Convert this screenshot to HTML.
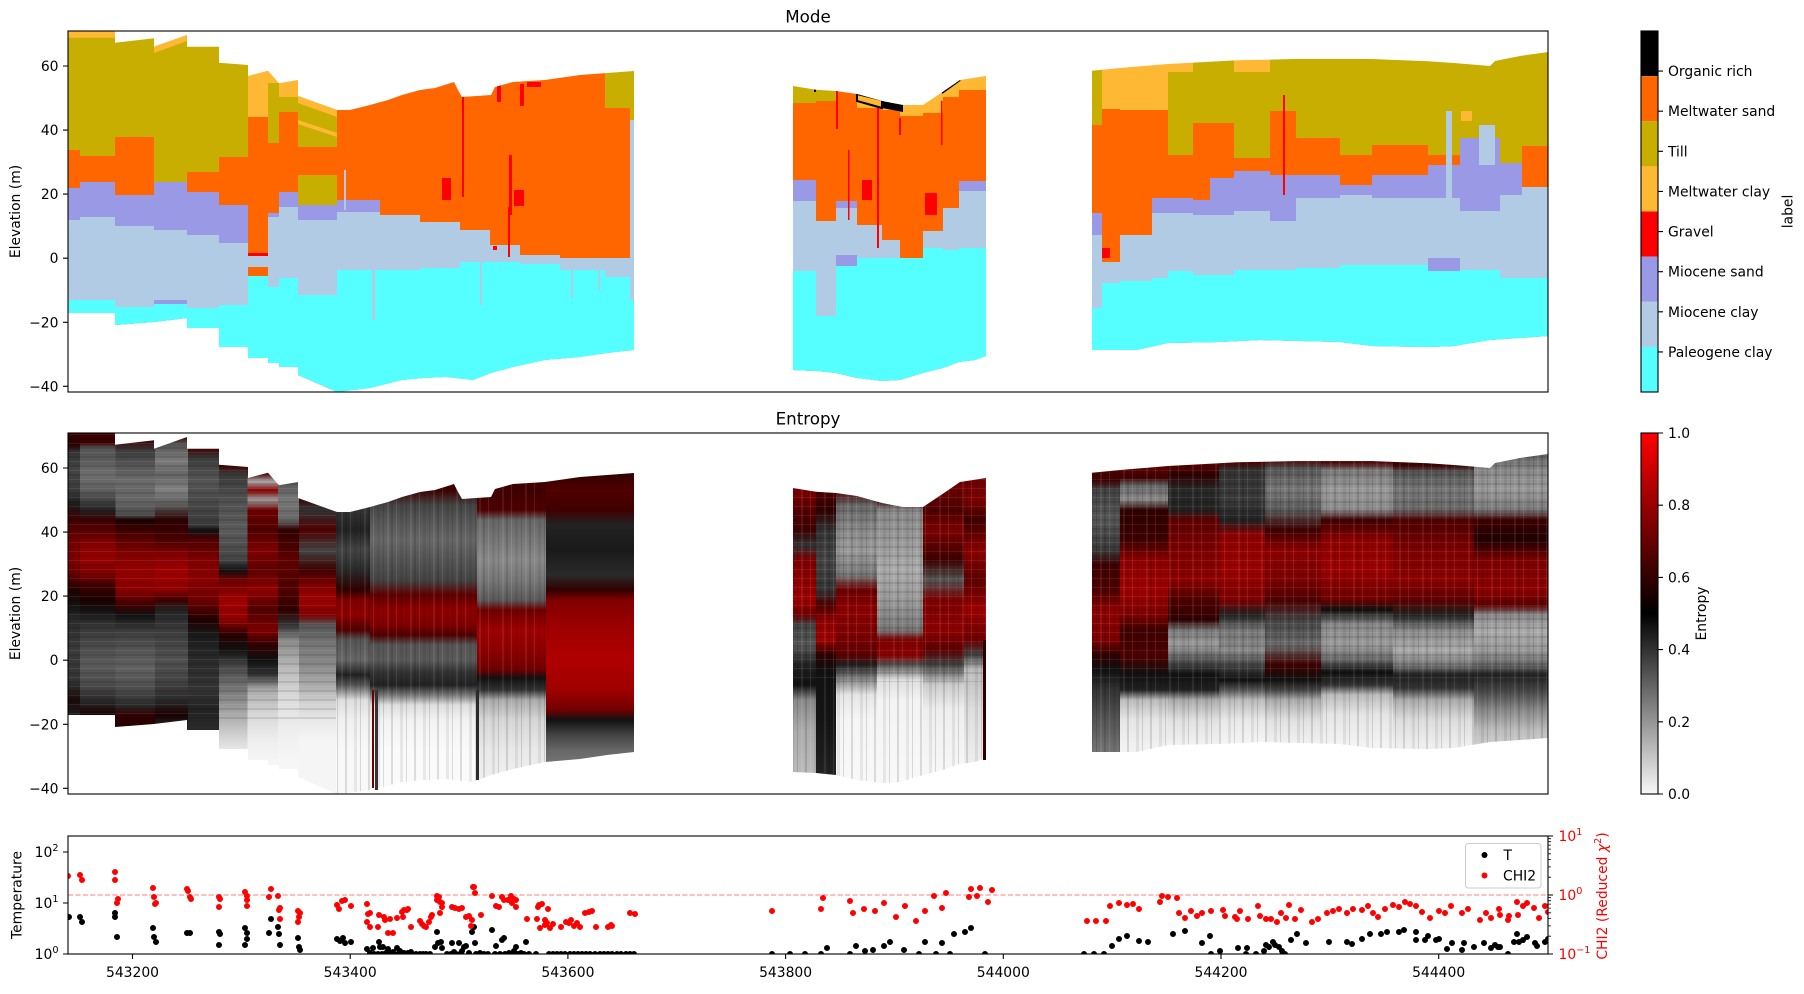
<!DOCTYPE html>
<html><head><meta charset="utf-8"><style>
html,body{margin:0;padding:0;background:#fff;}
body{width:1804px;height:989px;overflow:hidden;}
svg text{font-family:"DejaVu Sans","Liberation Sans",sans-serif;}
.P{fill:#55ffff}.C{fill:#b0cbe3}.S{fill:#9999e6}.G{fill:#ff0000}.Y{fill:#ffb833}.T{fill:#c8ae00}.M{fill:#ff6600}.K{fill:#000}
</style></head><body>
<svg width="1804" height="989" xmlns="http://www.w3.org/2000/svg">
<defs>
<clipPath id="s1"><polygon points="68,31 115,31 115,42.7 154,38.3 154,46.7 187,35 187,46.7 219,46.7 219,62.7 248,65 248,76 268,70.7 279,83.3 298,80 298,96 337,110 350,110 370,105 388,100 402,95 420,90 435,88 454,82 458,90 462,97 491,95 495,87 513,82 545,80 580,75 634,71 634,350 607,353 580,357 545,360 513,367 491,373 473,380 446,377 424,378 402,380 370,388 337,392 298,375 298,367 279,367 279,363 268,363 268,358 248,358 248,347 219,347 219,328 187,328 187,318 154,322 115,325 115,313 68,313"/></clipPath>
<clipPath id="s2"><polygon points="793,86 816,89.7 836,91 857,94 882,101 903,105 923,105 944,91 960,80 986,76 986,356 975,360 959,362 943,368 923,373 900,380 882,381 857,378 836,373 816,371 793,370"/></clipPath>
<clipPath id="s3"><polygon points="1092,70.7 1120,68 1168,64 1219,61.3 1237,60.3 1265,59.7 1296,59 1372,59 1428,61.3 1454,63 1490,66 1495,61 1520,56 1548,52 1548,336 1520,338 1490,340 1454,346 1428,347 1372,346 1340,342 1300,341 1260,340 1219,342 1168,343 1137,350 1092,350"/></clipPath>
<clipPath id="ax3"><rect x="68" y="836" width="1480" height="118"/></clipPath>
<pattern id="vs" patternUnits="userSpaceOnUse" width="23" height="400"><rect x="0" y="0" width="2" height="400" fill="#000" opacity=".12"/><rect x="5" y="0" width="1" height="400" fill="#fff" opacity=".1"/><rect x="9" y="0" width="3" height="400" fill="#000" opacity=".07"/><rect x="15" y="0" width="1" height="400" fill="#000" opacity=".13"/><rect x="19" y="0" width="2" height="400" fill="#fff" opacity=".08"/></pattern>
<pattern id="hs" patternUnits="userSpaceOnUse" width="40" height="9"><rect x="0" y="0" width="40" height="2" fill="#000" opacity=".1"/><rect x="0" y="5" width="40" height="1" fill="#fff" opacity=".08"/></pattern>
<linearGradient id="cbE" x1="0" y1="0" x2="0" y2="1"><stop offset="0" stop-color="#ff0000"/><stop offset=".5" stop-color="#000"/><stop offset="1" stop-color="#f8f8f8"/></linearGradient>

<linearGradient id="e1" gradientUnits="userSpaceOnUse" x1="0" y1="-402" x2="0" y2="598"><stop offset=".433" stop-color="#3a0000"/><stop offset=".445" stop-color="#2a0000"/><stop offset=".452" stop-color="#333"/><stop offset=".47" stop-color="#444"/><stop offset=".49" stop-color="#3a3a3a"/><stop offset=".505" stop-color="#1a1a1a"/><stop offset=".52" stop-color="#400000"/><stop offset=".54" stop-color="#700000"/><stop offset=".56" stop-color="#800000"/><stop offset=".575" stop-color="#600000"/><stop offset=".59" stop-color="#200000"/><stop offset=".605" stop-color="#111"/><stop offset=".62" stop-color="#2a2a2a"/><stop offset=".65" stop-color="#3a3a3a"/><stop offset=".68" stop-color="#333"/><stop offset=".70" stop-color="#1a0a0a"/><stop offset=".72" stop-color="#222"/></linearGradient>
<linearGradient id="e2" gradientUnits="userSpaceOnUse" x1="0" y1="-402" x2="0" y2="598"><stop offset=".433" stop-color="#400000"/><stop offset=".443" stop-color="#3a0000"/><stop offset=".448" stop-color="#555"/><stop offset=".46" stop-color="#5a5a5a"/><stop offset=".475" stop-color="#6e6e6e"/><stop offset=".49" stop-color="#5e5e5e"/><stop offset=".50" stop-color="#444"/><stop offset=".51" stop-color="#222"/><stop offset=".52" stop-color="#3a0000"/><stop offset=".533" stop-color="#600000"/><stop offset=".545" stop-color="#880000"/><stop offset=".56" stop-color="#950000"/><stop offset=".575" stop-color="#7a0000"/><stop offset=".585" stop-color="#400000"/><stop offset=".60" stop-color="#1a0000"/><stop offset=".612" stop-color="#151515"/><stop offset=".625" stop-color="#333"/><stop offset=".645" stop-color="#4a4a4a"/><stop offset=".665" stop-color="#5a5a5a"/><stop offset=".685" stop-color="#4a4a4a"/><stop offset=".70" stop-color="#2a2a2a"/><stop offset=".715" stop-color="#1a0000"/></linearGradient>
<linearGradient id="e3" gradientUnits="userSpaceOnUse" x1="0" y1="-402" x2="0" y2="598"><stop offset=".44" stop-color="#400000"/><stop offset=".45" stop-color="#3a3a3a"/><stop offset=".465" stop-color="#555"/><stop offset=".48" stop-color="#6a6a6a"/><stop offset=".50" stop-color="#666"/><stop offset=".515" stop-color="#4a4a4a"/><stop offset=".52" stop-color="#1a0000"/><stop offset=".535" stop-color="#500000"/><stop offset=".553" stop-color="#800000"/><stop offset=".57" stop-color="#950000"/><stop offset=".59" stop-color="#8a0000"/><stop offset=".605" stop-color="#400000"/><stop offset=".615" stop-color="#111"/><stop offset=".63" stop-color="#3a3a3a"/><stop offset=".65" stop-color="#555"/><stop offset=".67" stop-color="#606060"/><stop offset=".69" stop-color="#4a4a4a"/><stop offset=".705" stop-color="#2a2a2a"/><stop offset=".715" stop-color="#300000"/><stop offset=".725" stop-color="#2a0000"/></linearGradient>
<linearGradient id="e4" gradientUnits="userSpaceOnUse" x1="0" y1="-402" x2="0" y2="598"><stop offset=".435" stop-color="#400000"/><stop offset=".445" stop-color="#555"/><stop offset=".46" stop-color="#7a7a7a"/><stop offset=".475" stop-color="#666"/><stop offset=".49" stop-color="#808080"/><stop offset=".505" stop-color="#5a5a5a"/><stop offset=".52" stop-color="#2a0000"/><stop offset=".54" stop-color="#4a0000"/><stop offset=".553" stop-color="#800000"/><stop offset=".57" stop-color="#a00000"/><stop offset=".59" stop-color="#900000"/><stop offset=".60" stop-color="#400000"/><stop offset=".61" stop-color="#222"/><stop offset=".63" stop-color="#3a3a3a"/><stop offset=".66" stop-color="#505050"/><stop offset=".68" stop-color="#444"/><stop offset=".70" stop-color="#2a2a2a"/><stop offset=".715" stop-color="#1a0000"/><stop offset=".725" stop-color="#222"/></linearGradient>
<linearGradient id="e5" gradientUnits="userSpaceOnUse" x1="0" y1="-402" x2="0" y2="598"><stop offset=".448" stop-color="#400000"/><stop offset=".458" stop-color="#3a3a3a"/><stop offset=".48" stop-color="#555"/><stop offset=".50" stop-color="#4a4a4a"/><stop offset=".525" stop-color="#3a3a3a"/><stop offset=".53" stop-color="#111"/><stop offset=".54" stop-color="#500000"/><stop offset=".56" stop-color="#800000"/><stop offset=".58" stop-color="#8a0000"/><stop offset=".60" stop-color="#700000"/><stop offset=".62" stop-color="#200000"/><stop offset=".635" stop-color="#1a1a1a"/><stop offset=".66" stop-color="#2a2a2a"/><stop offset=".69" stop-color="#333"/><stop offset=".71" stop-color="#222"/><stop offset=".73" stop-color="#2a2a2a"/></linearGradient>
<linearGradient id="e6" gradientUnits="userSpaceOnUse" x1="0" y1="-402" x2="0" y2="598"><stop offset=".466" stop-color="#400000"/><stop offset=".474" stop-color="#3a3a3a"/><stop offset=".50" stop-color="#505050"/><stop offset=".53" stop-color="#5a5a5a"/><stop offset=".56" stop-color="#444"/><stop offset=".57" stop-color="#111"/><stop offset=".58" stop-color="#700000"/><stop offset=".60" stop-color="#a00000"/><stop offset=".62" stop-color="#900000"/><stop offset=".635" stop-color="#2a0000"/><stop offset=".65" stop-color="#111"/><stop offset=".665" stop-color="#444"/><stop offset=".69" stop-color="#777"/><stop offset=".715" stop-color="#aaa"/><stop offset=".735" stop-color="#d0d0d0"/><stop offset=".75" stop-color="#e8e8e8"/></linearGradient>
<linearGradient id="e7" gradientUnits="userSpaceOnUse" x1="0" y1="-402" x2="0" y2="598"><stop offset=".473" stop-color="#500000"/><stop offset=".482" stop-color="#aaa"/><stop offset=".49" stop-color="#880000"/><stop offset=".50" stop-color="#999"/><stop offset=".51" stop-color="#700000"/><stop offset=".53" stop-color="#500000"/><stop offset=".55" stop-color="#800000"/><stop offset=".57" stop-color="#600000"/><stop offset=".59" stop-color="#900000"/><stop offset=".61" stop-color="#500000"/><stop offset=".63" stop-color="#800000"/><stop offset=".645" stop-color="#300000"/><stop offset=".66" stop-color="#111"/><stop offset=".675" stop-color="#333"/><stop offset=".69" stop-color="#aaa"/><stop offset=".715" stop-color="#d8d8d8"/><stop offset=".74" stop-color="#eee"/><stop offset=".76" stop-color="#f5f5f5"/></linearGradient>
<linearGradient id="e8" gradientUnits="userSpaceOnUse" x1="0" y1="-402" x2="0" y2="598"><stop offset=".482" stop-color="#555"/><stop offset=".50" stop-color="#777"/><stop offset=".52" stop-color="#666"/><stop offset=".53" stop-color="#300000"/><stop offset=".56" stop-color="#600000"/><stop offset=".59" stop-color="#500000"/><stop offset=".61" stop-color="#300000"/><stop offset=".625" stop-color="#333"/><stop offset=".64" stop-color="#888"/><stop offset=".67" stop-color="#bbb"/><stop offset=".70" stop-color="#dcdcdc"/><stop offset=".73" stop-color="#eee"/><stop offset=".76" stop-color="#f6f6f6"/></linearGradient>
<linearGradient id="e9" gradientUnits="userSpaceOnUse" x1="0" y1="-402" x2="0" y2="598"><stop offset=".497" stop-color="#400000"/><stop offset=".51" stop-color="#333"/><stop offset=".53" stop-color="#500000"/><stop offset=".55" stop-color="#444"/><stop offset=".57" stop-color="#400000"/><stop offset=".585" stop-color="#800000"/><stop offset=".60" stop-color="#a00000"/><stop offset=".615" stop-color="#800000"/><stop offset=".625" stop-color="#555"/><stop offset=".645" stop-color="#777"/><stop offset=".665" stop-color="#888"/><stop offset=".685" stop-color="#aaa"/><stop offset=".70" stop-color="#ccc"/><stop offset=".72" stop-color="#e8e8e8"/><stop offset=".74" stop-color="#f5f5f5"/></linearGradient>
<linearGradient id="e10" gradientUnits="userSpaceOnUse" x1="0" y1="-402" x2="0" y2="598"><stop offset=".51" stop-color="#333"/><stop offset=".53" stop-color="#222"/><stop offset=".55" stop-color="#444"/><stop offset=".57" stop-color="#2a2a2a"/><stop offset=".59" stop-color="#300000"/><stop offset=".60" stop-color="#800000"/><stop offset=".615" stop-color="#900000"/><stop offset=".63" stop-color="#500000"/><stop offset=".64" stop-color="#555"/><stop offset=".66" stop-color="#666"/><stop offset=".675" stop-color="#222"/><stop offset=".685" stop-color="#555"/><stop offset=".70" stop-color="#ddd"/><stop offset=".72" stop-color="#f0f0f0"/><stop offset=".75" stop-color="#f8f8f8"/></linearGradient>
<linearGradient id="e11" gradientUnits="userSpaceOnUse" x1="0" y1="-402" x2="0" y2="598"><stop offset=".49" stop-color="#400000"/><stop offset=".505" stop-color="#444"/><stop offset=".52" stop-color="#555"/><stop offset=".54" stop-color="#666"/><stop offset=".56" stop-color="#555"/><stop offset=".58" stop-color="#444"/><stop offset=".595" stop-color="#600000"/><stop offset=".61" stop-color="#900000"/><stop offset=".625" stop-color="#800000"/><stop offset=".635" stop-color="#500000"/><stop offset=".645" stop-color="#555"/><stop offset=".66" stop-color="#5a5a5a"/><stop offset=".672" stop-color="#333"/><stop offset=".685" stop-color="#222"/><stop offset=".695" stop-color="#777"/><stop offset=".705" stop-color="#ddd"/><stop offset=".72" stop-color="#f2f2f2"/><stop offset=".75" stop-color="#fafafa"/></linearGradient>
<linearGradient id="e12" gradientUnits="userSpaceOnUse" x1="0" y1="-402" x2="0" y2="598"><stop offset=".49" stop-color="#400000"/><stop offset=".51" stop-color="#500000"/><stop offset=".52" stop-color="#666"/><stop offset=".54" stop-color="#777"/><stop offset=".56" stop-color="#888"/><stop offset=".58" stop-color="#777"/><stop offset=".60" stop-color="#5a5a5a"/><stop offset=".61" stop-color="#700000"/><stop offset=".63" stop-color="#a00000"/><stop offset=".65" stop-color="#900000"/><stop offset=".67" stop-color="#700000"/><stop offset=".678" stop-color="#111"/><stop offset=".69" stop-color="#333"/><stop offset=".70" stop-color="#aaa"/><stop offset=".72" stop-color="#d5d5d5"/><stop offset=".75" stop-color="#e8e8e8"/><stop offset=".775" stop-color="#eee"/></linearGradient>
<linearGradient id="e13" gradientUnits="userSpaceOnUse" x1="0" y1="-402" x2="0" y2="598"><stop offset=".473" stop-color="#300000"/><stop offset=".49" stop-color="#500000"/><stop offset=".51" stop-color="#400000"/><stop offset=".525" stop-color="#222"/><stop offset=".55" stop-color="#1a1a1a"/><stop offset=".575" stop-color="#2a2a2a"/><stop offset=".59" stop-color="#300000"/><stop offset=".60" stop-color="#800000"/><stop offset=".63" stop-color="#a00000"/><stop offset=".66" stop-color="#b00000"/><stop offset=".69" stop-color="#a00000"/><stop offset=".71" stop-color="#700000"/><stop offset=".72" stop-color="#111"/><stop offset=".735" stop-color="#444"/><stop offset=".75" stop-color="#666"/><stop offset=".765" stop-color="#777"/></linearGradient>
<linearGradient id="e14" gradientUnits="userSpaceOnUse" x1="0" y1="-402" x2="0" y2="598"><stop offset=".488" stop-color="#800000"/><stop offset=".50" stop-color="#700000"/><stop offset=".515" stop-color="#500000"/><stop offset=".53" stop-color="#400000"/><stop offset=".545" stop-color="#333"/><stop offset=".56" stop-color="#800000"/><stop offset=".58" stop-color="#900000"/><stop offset=".60" stop-color="#a00000"/><stop offset=".615" stop-color="#700000"/><stop offset=".625" stop-color="#444"/><stop offset=".645" stop-color="#555"/><stop offset=".665" stop-color="#222"/><stop offset=".685" stop-color="#111"/><stop offset=".70" stop-color="#888"/><stop offset=".73" stop-color="#aaa"/><stop offset=".775" stop-color="#bbb"/></linearGradient>
<linearGradient id="e15" gradientUnits="userSpaceOnUse" x1="0" y1="-402" x2="0" y2="598"><stop offset=".49" stop-color="#500000"/><stop offset=".51" stop-color="#300000"/><stop offset=".53" stop-color="#333"/><stop offset=".56" stop-color="#444"/><stop offset=".59" stop-color="#333"/><stop offset=".605" stop-color="#500000"/><stop offset=".62" stop-color="#900000"/><stop offset=".64" stop-color="#a00000"/><stop offset=".655" stop-color="#300000"/><stop offset=".67" stop-color="#111"/><stop offset=".72" stop-color="#151515"/><stop offset=".775" stop-color="#222"/></linearGradient>
<linearGradient id="e16" gradientUnits="userSpaceOnUse" x1="0" y1="-402" x2="0" y2="598"><stop offset=".49" stop-color="#500000"/><stop offset=".505" stop-color="#666"/><stop offset=".53" stop-color="#888"/><stop offset=".55" stop-color="#999"/><stop offset=".575" stop-color="#777"/><stop offset=".59" stop-color="#700000"/><stop offset=".61" stop-color="#900000"/><stop offset=".635" stop-color="#800000"/><stop offset=".655" stop-color="#600000"/><stop offset=".665" stop-color="#222"/><stop offset=".68" stop-color="#888"/><stop offset=".695" stop-color="#e5e5e5"/><stop offset=".72" stop-color="#f5f5f5"/><stop offset=".78" stop-color="#f8f8f8"/></linearGradient>
<linearGradient id="e17" gradientUnits="userSpaceOnUse" x1="0" y1="-402" x2="0" y2="598"><stop offset=".50" stop-color="#300000"/><stop offset=".51" stop-color="#888"/><stop offset=".54" stop-color="#999"/><stop offset=".57" stop-color="#aaa"/><stop offset=".60" stop-color="#999"/><stop offset=".63" stop-color="#777"/><stop offset=".64" stop-color="#800000"/><stop offset=".655" stop-color="#900000"/><stop offset=".665" stop-color="#555"/><stop offset=".68" stop-color="#ddd"/><stop offset=".70" stop-color="#f3f3f3"/><stop offset=".78" stop-color="#f8f8f8"/></linearGradient>
<linearGradient id="e18" gradientUnits="userSpaceOnUse" x1="0" y1="-402" x2="0" y2="598"><stop offset=".488" stop-color="#700000"/><stop offset=".51" stop-color="#500000"/><stop offset=".53" stop-color="#800000"/><stop offset=".56" stop-color="#400000"/><stop offset=".58" stop-color="#555"/><stop offset=".60" stop-color="#800000"/><stop offset=".63" stop-color="#900000"/><stop offset=".65" stop-color="#600000"/><stop offset=".665" stop-color="#444"/><stop offset=".685" stop-color="#ccc"/><stop offset=".71" stop-color="#eee"/><stop offset=".78" stop-color="#f8f8f8"/></linearGradient>
<linearGradient id="e19" gradientUnits="userSpaceOnUse" x1="0" y1="-402" x2="0" y2="598"><stop offset=".478" stop-color="#700000"/><stop offset=".50" stop-color="#800000"/><stop offset=".52" stop-color="#400000"/><stop offset=".55" stop-color="#900000"/><stop offset=".58" stop-color="#600000"/><stop offset=".61" stop-color="#a00000"/><stop offset=".64" stop-color="#700000"/><stop offset=".655" stop-color="#444"/><stop offset=".67" stop-color="#bbb"/><stop offset=".71" stop-color="#ddd"/><stop offset=".765" stop-color="#eee"/></linearGradient>
<linearGradient id="e20" gradientUnits="userSpaceOnUse" x1="0" y1="-402" x2="0" y2="598"><stop offset=".47" stop-color="#500000"/><stop offset=".48" stop-color="#400000"/><stop offset=".49" stop-color="#444"/><stop offset=".52" stop-color="#555"/><stop offset=".55" stop-color="#3a3a3a"/><stop offset=".565" stop-color="#400000"/><stop offset=".59" stop-color="#500000"/><stop offset=".61" stop-color="#900000"/><stop offset=".64" stop-color="#800000"/><stop offset=".655" stop-color="#300000"/><stop offset=".67" stop-color="#111"/><stop offset=".69" stop-color="#333"/><stop offset=".72" stop-color="#555"/><stop offset=".755" stop-color="#777"/></linearGradient>
<linearGradient id="e21" gradientUnits="userSpaceOnUse" x1="0" y1="-402" x2="0" y2="598"><stop offset=".466" stop-color="#600000"/><stop offset=".478" stop-color="#400000"/><stop offset=".485" stop-color="#666"/><stop offset=".50" stop-color="#888"/><stop offset=".51" stop-color="#300000"/><stop offset=".54" stop-color="#400000"/><stop offset=".56" stop-color="#900000"/><stop offset=".59" stop-color="#a00000"/><stop offset=".615" stop-color="#800000"/><stop offset=".63" stop-color="#400000"/><stop offset=".655" stop-color="#500000"/><stop offset=".675" stop-color="#111"/><stop offset=".69" stop-color="#222"/><stop offset=".70" stop-color="#bbb"/><stop offset=".72" stop-color="#e5e5e5"/><stop offset=".75" stop-color="#f2f2f2"/></linearGradient>
<linearGradient id="e22" gradientUnits="userSpaceOnUse" x1="0" y1="-402" x2="0" y2="598"><stop offset=".463" stop-color="#600000"/><stop offset=".475" stop-color="#300000"/><stop offset=".49" stop-color="#2a2a2a"/><stop offset=".51" stop-color="#222"/><stop offset=".52" stop-color="#600000"/><stop offset=".55" stop-color="#800000"/><stop offset=".58" stop-color="#900000"/><stop offset=".60" stop-color="#500000"/><stop offset=".62" stop-color="#300000"/><stop offset=".63" stop-color="#777"/><stop offset=".645" stop-color="#999"/><stop offset=".66" stop-color="#555"/><stop offset=".675" stop-color="#111"/><stop offset=".69" stop-color="#222"/><stop offset=".70" stop-color="#aaa"/><stop offset=".72" stop-color="#e0e0e0"/><stop offset=".745" stop-color="#f2f2f2"/></linearGradient>
<linearGradient id="e23" gradientUnits="userSpaceOnUse" x1="0" y1="-402" x2="0" y2="598"><stop offset=".462" stop-color="#500000"/><stop offset=".47" stop-color="#333"/><stop offset=".50" stop-color="#3a3a3a"/><stop offset=".52" stop-color="#222"/><stop offset=".535" stop-color="#900000"/><stop offset=".57" stop-color="#a00000"/><stop offset=".60" stop-color="#800000"/><stop offset=".615" stop-color="#222"/><stop offset=".63" stop-color="#777"/><stop offset=".65" stop-color="#888"/><stop offset=".665" stop-color="#444"/><stop offset=".68" stop-color="#111"/><stop offset=".69" stop-color="#555"/><stop offset=".70" stop-color="#bbb"/><stop offset=".72" stop-color="#e8e8e8"/><stop offset=".745" stop-color="#f5f5f5"/></linearGradient>
<linearGradient id="e24" gradientUnits="userSpaceOnUse" x1="0" y1="-402" x2="0" y2="598"><stop offset=".46" stop-color="#500000"/><stop offset=".468" stop-color="#555"/><stop offset=".49" stop-color="#777"/><stop offset=".51" stop-color="#5a5a5a"/><stop offset=".53" stop-color="#400000"/><stop offset=".55" stop-color="#900000"/><stop offset=".58" stop-color="#800000"/><stop offset=".60" stop-color="#500000"/><stop offset=".62" stop-color="#444"/><stop offset=".645" stop-color="#6a6a6a"/><stop offset=".665" stop-color="#400000"/><stop offset=".68" stop-color="#111"/><stop offset=".69" stop-color="#444"/><stop offset=".70" stop-color="#aaa"/><stop offset=".72" stop-color="#e0e0e0"/><stop offset=".745" stop-color="#f2f2f2"/></linearGradient>
<linearGradient id="e25" gradientUnits="userSpaceOnUse" x1="0" y1="-402" x2="0" y2="598"><stop offset=".462" stop-color="#500000"/><stop offset=".47" stop-color="#777"/><stop offset=".49" stop-color="#999"/><stop offset=".51" stop-color="#888"/><stop offset=".52" stop-color="#400000"/><stop offset=".54" stop-color="#900000"/><stop offset=".57" stop-color="#a00000"/><stop offset=".60" stop-color="#700000"/><stop offset=".61" stop-color="#111"/><stop offset=".625" stop-color="#888"/><stop offset=".645" stop-color="#9a9a9a"/><stop offset=".66" stop-color="#666"/><stop offset=".672" stop-color="#111"/><stop offset=".685" stop-color="#333"/><stop offset=".695" stop-color="#bbb"/><stop offset=".715" stop-color="#e5e5e5"/><stop offset=".745" stop-color="#f3f3f3"/></linearGradient>
<linearGradient id="e26" gradientUnits="userSpaceOnUse" x1="0" y1="-402" x2="0" y2="598"><stop offset=".465" stop-color="#400000"/><stop offset=".472" stop-color="#555"/><stop offset=".49" stop-color="#777"/><stop offset=".51" stop-color="#666"/><stop offset=".52" stop-color="#500000"/><stop offset=".55" stop-color="#800000"/><stop offset=".58" stop-color="#900000"/><stop offset=".60" stop-color="#600000"/><stop offset=".615" stop-color="#222"/><stop offset=".63" stop-color="#888"/><stop offset=".65" stop-color="#aaa"/><stop offset=".665" stop-color="#777"/><stop offset=".675" stop-color="#222"/><stop offset=".688" stop-color="#333"/><stop offset=".70" stop-color="#aaa"/><stop offset=".72" stop-color="#dcdcdc"/><stop offset=".745" stop-color="#eee"/></linearGradient>
<linearGradient id="e27" gradientUnits="userSpaceOnUse" x1="0" y1="-402" x2="0" y2="598"><stop offset=".45" stop-color="#555"/><stop offset=".47" stop-color="#888"/><stop offset=".49" stop-color="#999"/><stop offset=".51" stop-color="#777"/><stop offset=".52" stop-color="#400000"/><stop offset=".54" stop-color="#200000"/><stop offset=".56" stop-color="#800000"/><stop offset=".59" stop-color="#900000"/><stop offset=".605" stop-color="#600000"/><stop offset=".615" stop-color="#888"/><stop offset=".63" stop-color="#aaa"/><stop offset=".65" stop-color="#999"/><stop offset=".665" stop-color="#666"/><stop offset=".675" stop-color="#222"/><stop offset=".69" stop-color="#444"/><stop offset=".71" stop-color="#888"/><stop offset=".73" stop-color="#bbb"/><stop offset=".745" stop-color="#ccc"/></linearGradient>
</defs>

<!-- ================= MODE ================= -->
<g clip-path="url(#s1)">
<rect class="Y" x="68" y="0" width="12" height="400"/><rect class="T" x="68" y="37.7" width="12" height="362.3"/><rect class="M" x="68" y="150" width="12" height="250"/><rect class="S" x="68" y="188" width="12" height="212"/><rect class="C" x="68" y="220" width="12" height="180"/><rect class="P" x="68" y="300" width="12" height="100"/>
<rect class="Y" x="80" y="0" width="35" height="400"/><rect class="T" x="80" y="37.7" width="35" height="362.3"/><rect class="M" x="80" y="156" width="35" height="244"/><rect class="S" x="80" y="182" width="35" height="218"/><rect class="C" x="80" y="217" width="35" height="183"/><rect class="P" x="80" y="300" width="35" height="100"/>
<rect class="T" x="115" y="0" width="39" height="400"/><rect class="M" x="115" y="137" width="39" height="263"/><rect class="S" x="115" y="195" width="39" height="205"/><rect class="C" x="115" y="226" width="39" height="174"/><rect class="P" x="115" y="307" width="39" height="93"/>
<rect class="T" x="154" y="0" width="33" height="400"/><rect class="S" x="154" y="182" width="33" height="218"/><rect class="C" x="154" y="230" width="33" height="170"/><rect class="S" x="154" y="300" width="33" height="100"/><rect class="P" x="154" y="304" width="33" height="96"/>
<polygon class="Y" points="154,0 187,0 187,41 154,53"/>
<rect class="T" x="187" y="0" width="32" height="400"/><rect class="M" x="187" y="172" width="32" height="228"/><rect class="S" x="187" y="192" width="32" height="208"/><rect class="C" x="187" y="235" width="32" height="165"/><rect class="P" x="187" y="308" width="32" height="92"/>
<rect class="T" x="219" y="0" width="29" height="400"/><rect class="M" x="219" y="157" width="29" height="243"/><rect class="S" x="219" y="205" width="29" height="195"/><rect class="C" x="219" y="243" width="29" height="157"/><rect class="P" x="219" y="305" width="29" height="95"/>
<rect class="Y" x="248" y="0" width="20" height="400"/><rect class="M" x="248" y="117" width="20" height="283"/><rect class="G" x="248" y="253" width="20" height="147"/><rect class="C" x="248" y="256" width="20" height="144"/><rect class="M" x="248" y="267" width="20" height="133"/><rect class="P" x="248" y="276" width="20" height="124"/>
<rect class="Y" x="268" y="0" width="11" height="400"/><rect class="T" x="268" y="83" width="11" height="317"/><rect class="M" x="268" y="143" width="11" height="257"/><rect class="S" x="268" y="213" width="11" height="187"/><rect class="C" x="268" y="217" width="11" height="183"/><rect class="P" x="268" y="287" width="11" height="113"/>
<rect class="Y" x="279" y="0" width="19" height="400"/><rect class="T" x="279" y="97" width="19" height="303"/><rect class="M" x="279" y="112" width="19" height="288"/><rect class="S" x="279" y="192" width="19" height="208"/><rect class="C" x="279" y="207" width="19" height="193"/><rect class="P" x="279" y="278" width="19" height="122"/>
<rect class="T" x="298" y="0" width="39" height="400"/><rect class="M" x="298" y="147" width="39" height="253"/><rect class="T" x="298" y="175" width="39" height="225"/><rect class="S" x="298" y="205" width="39" height="195"/><rect class="C" x="298" y="220" width="39" height="180"/><rect class="P" x="298" y="295" width="39" height="105"/>
<polygon class="Y" points="298,0 337,0 337,117 298,103"/><polygon class="Y" points="298,120 337,133 337,137 298,124"/>
<rect class="M" x="337" y="0" width="268" height="400"/>
<rect class="S" x="337" y="200" width="43" height="200"/><rect class="C" x="337" y="212" width="43" height="188"/><rect class="P" x="337" y="270" width="43" height="130"/>
<rect class="C" x="380" y="215" width="40" height="185"/><rect class="P" x="380" y="270" width="40" height="130"/>
<rect class="C" x="420" y="222" width="40" height="178"/><rect class="P" x="420" y="268" width="40" height="132"/>
<rect class="C" x="460" y="230" width="30" height="170"/><rect class="P" x="460" y="262" width="30" height="138"/>
<rect class="C" x="490" y="245" width="30" height="155"/><rect class="P" x="490" y="262" width="30" height="138"/>
<rect class="C" x="520" y="255" width="40" height="145"/><rect class="P" x="520" y="264" width="40" height="136"/>
<rect class="C" x="560" y="258" width="45" height="142"/><rect class="P" x="560" y="270" width="45" height="130"/>
<rect class="T" x="605" y="0" width="25" height="400"/><rect class="M" x="605" y="108" width="25" height="292"/><rect class="C" x="605" y="258" width="25" height="142"/><rect class="P" x="605" y="277" width="25" height="123"/>
<rect class="T" x="630" y="0" width="5" height="400"/><rect class="C" x="630" y="120" width="5" height="280"/><rect class="P" x="630" y="300" width="5" height="100"/>
<rect class="G" x="442" y="178" width="9" height="22"/><rect class="G" x="509" y="155" width="3" height="60"/><rect class="G" x="514" y="190" width="10" height="16"/><rect class="G" x="497" y="84" width="4" height="18"/><rect class="G" x="527" y="82" width="14" height="5"/><rect class="G" x="520" y="84" width="4" height="22"/><rect class="G" x="462" y="97" width="2" height="100"/><rect class="G" x="493" y="246" width="4" height="4"/><rect class="G" x="508" y="207" width="2" height="50"/>
<rect class="C" x="344" y="170" width="2" height="40"/><rect class="C" x="372" y="265" width="3" height="55"/><rect class="C" x="480" y="230" width="2" height="75"/><rect class="C" x="571" y="258" width="2" height="40"/><rect class="C" x="598" y="262" width="2" height="28"/>
</g>

<g clip-path="url(#s2)">
<rect class="T" x="793" y="0" width="23" height="400"/><rect class="M" x="793" y="103" width="23" height="297"/><rect class="S" x="793" y="180" width="23" height="220"/><rect class="C" x="793" y="201" width="23" height="199"/><rect class="P" x="793" y="271" width="23" height="129"/>
<rect class="T" x="816" y="0" width="20" height="400"/><rect class="M" x="816" y="101" width="20" height="299"/><rect class="C" x="816" y="221" width="20" height="179"/><rect class="P" x="816" y="316" width="20" height="84"/>
<rect class="M" x="836" y="0" width="21" height="400"/><rect class="S" x="836" y="201" width="21" height="199"/><rect class="C" x="836" y="208" width="21" height="192"/><rect class="S" x="836" y="255" width="21" height="145"/><rect class="P" x="836" y="266" width="21" height="134"/>
<rect class="Y" x="857" y="0" width="25" height="400"/><rect class="M" x="857" y="108" width="25" height="292"/><rect class="C" x="857" y="225" width="25" height="175"/><rect class="P" x="857" y="258" width="25" height="142"/>
<rect class="Y" x="882" y="0" width="18" height="400"/><rect class="M" x="882" y="110" width="18" height="290"/><rect class="C" x="882" y="240" width="18" height="160"/><rect class="P" x="882" y="258" width="18" height="142"/>
<rect class="Y" x="900" y="0" width="23" height="400"/><rect class="M" x="900" y="116" width="23" height="284"/><rect class="P" x="900" y="258" width="23" height="142"/>
<rect class="Y" x="923" y="0" width="20" height="400"/><rect class="M" x="923" y="113" width="20" height="287"/><rect class="C" x="923" y="231" width="20" height="169"/><rect class="P" x="923" y="248" width="20" height="152"/>
<rect class="Y" x="943" y="0" width="16" height="400"/><rect class="M" x="943" y="97" width="16" height="303"/><rect class="C" x="943" y="208" width="16" height="192"/><rect class="P" x="943" y="250" width="16" height="150"/>
<rect class="Y" x="959" y="0" width="27" height="400"/><rect class="M" x="959" y="90" width="27" height="310"/><rect class="S" x="959" y="181" width="27" height="219"/><rect class="C" x="959" y="191" width="27" height="209"/><rect class="P" x="959" y="248" width="27" height="152"/>
<rect class="G" x="836" y="91" width="2" height="38"/><rect class="G" x="877" y="105" width="2" height="143"/><rect class="G" x="899" y="118" width="2" height="17"/><rect class="G" x="862" y="180" width="10" height="20"/><rect class="G" x="925" y="193" width="12" height="22"/><rect class="G" x="941" y="101" width="1.5" height="44"/><rect class="G" x="848" y="150" width="1.5" height="70"/>
<polygon points="857,94 882,100 882,108 857,101" fill="#ffb833" stroke="#000" stroke-width="2"/>
<polygon class="K" points="882,100 903,104 903,112 882,108"/>
<line x1="942" y1="93" x2="960" y2="80" stroke="#000" stroke-width="2"/>
<rect class="K" x="814" y="88" width="2" height="4"/>
</g>

<g clip-path="url(#s3)">
<rect class="T" x="1092" y="0" width="10" height="400"/><rect class="M" x="1092" y="125" width="10" height="275"/><rect class="S" x="1092" y="213" width="10" height="187"/><rect class="C" x="1092" y="235" width="10" height="165"/><rect class="P" x="1092" y="308" width="10" height="92"/>
<rect class="Y" x="1102" y="0" width="18" height="400"/><rect class="M" x="1102" y="109" width="18" height="291"/><rect class="C" x="1102" y="262" width="18" height="138"/><rect class="P" x="1102" y="283" width="18" height="117"/><rect class="G" x="1102" y="248" width="8" height="10"/>
<rect class="Y" x="1120" y="0" width="32" height="400"/><rect class="M" x="1120" y="110" width="32" height="290"/><rect class="C" x="1120" y="235" width="32" height="165"/><rect class="P" x="1120" y="281" width="32" height="119"/>
<rect class="Y" x="1152" y="0" width="16" height="400"/><rect class="M" x="1152" y="110" width="16" height="290"/><rect class="S" x="1152" y="198" width="16" height="202"/><rect class="C" x="1152" y="213" width="16" height="187"/><rect class="P" x="1152" y="278" width="16" height="122"/>
<rect class="Y" x="1168" y="0" width="25" height="400"/><rect class="T" x="1168" y="72" width="25" height="328"/><rect class="M" x="1168" y="155" width="25" height="245"/><rect class="S" x="1168" y="198" width="25" height="202"/><rect class="C" x="1168" y="213" width="25" height="187"/><rect class="P" x="1168" y="271" width="25" height="129"/>
<rect class="T" x="1193" y="0" width="41" height="400"/><rect class="M" x="1193" y="123" width="41" height="277"/><rect class="S" x="1210" y="178" width="24" height="222"/><rect class="S" x="1193" y="200" width="41" height="200"/><rect class="C" x="1193" y="215" width="41" height="185"/><rect class="P" x="1193" y="275" width="41" height="125"/>
<rect class="Y" x="1234" y="0" width="36" height="400"/><rect class="T" x="1234" y="72" width="36" height="328"/><rect class="M" x="1234" y="158" width="36" height="242"/><rect class="S" x="1234" y="171" width="36" height="229"/><rect class="C" x="1234" y="211" width="36" height="189"/><rect class="P" x="1234" y="270" width="36" height="130"/>
<rect class="T" x="1270" y="0" width="26" height="400"/><rect class="M" x="1270" y="111" width="26" height="289"/><rect class="S" x="1270" y="175" width="26" height="225"/><rect class="C" x="1270" y="221" width="26" height="179"/><rect class="P" x="1270" y="270" width="26" height="130"/>
<rect class="T" x="1296" y="0" width="44" height="400"/><rect class="M" x="1296" y="138" width="44" height="262"/><rect class="S" x="1296" y="175" width="44" height="225"/><rect class="C" x="1296" y="198" width="44" height="202"/><rect class="P" x="1296" y="268" width="44" height="132"/>
<rect class="T" x="1340" y="0" width="32" height="400"/><rect class="M" x="1340" y="155" width="32" height="245"/><rect class="S" x="1340" y="185" width="32" height="215"/><rect class="C" x="1340" y="195" width="32" height="205"/><rect class="P" x="1340" y="265" width="32" height="135"/>
<rect class="T" x="1372" y="0" width="56" height="400"/><rect class="M" x="1372" y="145" width="56" height="255"/><rect class="S" x="1372" y="175" width="56" height="225"/><rect class="C" x="1372" y="198" width="56" height="202"/><rect class="P" x="1372" y="265" width="56" height="135"/>
<rect class="T" x="1428" y="0" width="32" height="400"/><rect class="M" x="1428" y="155" width="32" height="245"/><rect class="S" x="1428" y="165" width="32" height="235"/><rect class="C" x="1428" y="198" width="32" height="202"/><rect class="S" x="1428" y="258" width="32" height="142"/><rect class="P" x="1428" y="271" width="32" height="129"/>
<rect class="T" x="1460" y="0" width="40" height="400"/><rect class="S" x="1460" y="138" width="40" height="262"/><rect class="C" x="1460" y="211" width="40" height="189"/><rect class="P" x="1460" y="270" width="40" height="130"/>
<rect class="T" x="1500" y="0" width="22" height="400"/><rect class="S" x="1500" y="163" width="22" height="237"/><rect class="C" x="1500" y="195" width="22" height="205"/><rect class="P" x="1500" y="278" width="22" height="122"/>
<rect class="T" x="1522" y="0" width="27" height="400"/><rect class="M" x="1522" y="146" width="27" height="254"/><rect class="C" x="1522" y="187" width="27" height="213"/><rect class="P" x="1522" y="278" width="27" height="122"/>
<rect class="G" x="1283" y="95" width="2" height="100"/><rect class="C" x="1446" y="111" width="6" height="90"/><rect class="Y" x="1461" y="111" width="11" height="10"/><rect class="C" x="1479" y="125" width="16" height="40"/>
</g>

<!-- ================= ENTROPY ================= -->
<g transform="translate(0,402)">
<g clip-path="url(#s1)">
<rect x="68" y="0" width="12" height="400" fill="url(#e1)"/>
<rect x="80" y="0" width="35.5" height="400" fill="url(#e2)"/>
<rect x="115.5" y="0" width="39.5" height="400" fill="url(#e3)"/>
<rect x="155" y="0" width="33" height="400" fill="url(#e4)"/>
<rect x="188" y="0" width="31" height="400" fill="url(#e5)"/>
<rect x="219" y="0" width="28.5" height="400" fill="url(#e6)"/>
<rect x="247.5" y="0" width="30.5" height="400" fill="url(#e7)"/>
<rect x="278" y="0" width="21" height="400" fill="url(#e8)"/>
<rect x="299" y="0" width="37" height="400" fill="url(#e9)"/>
<rect x="336" y="0" width="34" height="400" fill="url(#e10)"/>
<rect x="370" y="0" width="107" height="400" fill="url(#e11)"/>
<rect x="477" y="0" width="69" height="400" fill="url(#e12)"/>
<rect x="546" y="0" width="89" height="400" fill="url(#e13)"/>
<rect x="68" y="0" width="268" height="320" fill="url(#hs)"/>
<rect x="336" y="0" width="210" height="400" fill="url(#vs)"/>
</g>
<g clip-path="url(#s2)">
<rect x="793" y="0" width="23" height="400" fill="url(#e14)"/>
<rect x="816" y="0" width="20" height="400" fill="url(#e15)"/>
<rect x="836" y="0" width="41" height="400" fill="url(#e16)"/>
<rect x="877" y="0" width="46" height="400" fill="url(#e17)"/>
<rect x="923" y="0" width="41" height="400" fill="url(#e18)"/>
<rect x="964" y="0" width="22" height="400" fill="url(#e19)"/>
<rect x="793" y="0" width="193" height="280" fill="url(#hs)"/>
<rect x="793" y="0" width="193" height="400" fill="url(#vs)"/>
</g>
<g clip-path="url(#s3)">
<rect x="1092" y="0" width="28" height="400" fill="url(#e20)"/>
<rect x="1120" y="0" width="48" height="400" fill="url(#e21)"/>
<rect x="1168" y="0" width="51" height="400" fill="url(#e22)"/>
<rect x="1219" y="0" width="46" height="400" fill="url(#e23)"/>
<rect x="1265" y="0" width="56" height="400" fill="url(#e24)"/>
<rect x="1321" y="0" width="72" height="400" fill="url(#e25)"/>
<rect x="1393" y="0" width="81" height="400" fill="url(#e26)"/>
<rect x="1474" y="0" width="75" height="400" fill="url(#e27)"/>
<rect x="1092" y="0" width="457" height="280" fill="url(#hs)"/>
<rect x="1092" y="0" width="457" height="400" fill="url(#vs)"/>
</g>
</g>
<rect x="372" y="690" width="2" height="98" fill="#700000"/><rect x="375" y="690" width="3" height="100" fill="#333"/>
<rect x="476" y="690" width="3" height="90" fill="#2a2a2a"/>
<rect x="983" y="640" width="3" height="120" fill="#300000"/>

<!-- ================= BOTTOM SCATTER ================= -->
<g clip-path="url(#ax3)">
<path fill="none" stroke="#000" stroke-width="6" stroke-linecap="round" d="M69 917h0M80 917h0M82 922h0M115 913h0M115 917h0M117 937h0M153 928h0M154 937h0M156 942h0M187 933h0M190 933h0M219 932h0M220 934h0M219 945h0M245 928h0M247 933h0M247 939h0M245 945h0M269 933h0M271 919h0M278 927h0M279 934h0M280 945h0M298 938h0M299 947h0M300 950h0M337 939h0M340 941h0M343 938h0M345 943h0M351 942h0M367 949h0M370 953h0M373 948h0M379 942h0M380 947h0M383 947h0M386 953h0M388 949h0M393 952h0M397 948h0M400 951h0M404 953h0M408 953h0M411 952h0M420 954h0M426 954h0M437 932h0M435 947h0M438 943h0M441 942h0M442 948h0M452 943h0M454 952h0M459 943h0M462 951h0M464 947h0M466 946h0M469 953h0M472 932h0M474 927h0M475 943h0M480 953h0M492 930h0M496 946h0M502 940h0M504 938h0M509 953h0M514 951h0M516 947h0M521 953h0M526 942h0M529 954h0M536 954h0M374 954h0M378 954h0M382 954h0M390 954h0M394 954h0M398 954h0M402 954h0M406 954h0M412 954h0M416 954h0M423 954h0M430 954h0M447 954h0M451 954h0M456 954h0M460 954h0M476 954h0M484 954h0M488 954h0M495 954h0M500 954h0M505 954h0M512 954h0M518 954h0M524 954h0M549 954h0M553 954h0M557 954h0M561 954h0M565 954h0M570 954h0M574 954h0M578 954h0M582 954h0M586 954h0M590 954h0M595 954h0M600 954h0M604 954h0M608 954h0M612 954h0M617 954h0M621 954h0M626 954h0M630 954h0M634 954h0M772 954h0M790 954h0M805 954h0M821 954h0M827 948h0M850 954h0M856 946h0M865 951h0M873 950h0M884 946h0M890 942h0M904 950h0M919 954h0M925 942h0M936 954h0M942 943h0M950 954h0M954 934h0M965 932h0M971 928h0M985 954h0M1084 954h0M1094 954h0M1104 954h0M1112 946h0M1119 939h0M1127 936h0M1139 941h0M1148 942h0M1173 934h0M1185 931h0M1202 943h0M1210 936h0M1211 954h0M1220 951h0M1238 948h0M1247 948h0M1246 954h0M1256 954h0M1264 951h0M1266 945h0M1269 947h0M1273 942h0M1275 945h0M1279 947h0M1282 951h0M1285 954h0M1291 940h0M1297 934h0M1306 943h0M1329 942h0M1347 942h0M1352 944h0M1362 939h0M1370 934h0M1381 934h0M1387 932h0M1399 932h0M1404 930h0M1416 932h0M1416 940h0M1425 940h0M1428 936h0M1436 940h0M1439 939h0M1447 949h0M1452 943h0M1462 950h0M1464 943h0M1474 947h0M1484 943h0M1491 948h0M1495 945h0M1498 947h0M1500 947h0M1508 954h0M1514 942h0M1517 934h0M1519 942h0M1523 940h0M1527 937h0M1535 943h0M1537 946h0M1545 942h0M1548 939h0"/>
<line x1="68" y1="895" x2="1548" y2="895" stroke="#ff0000" stroke-opacity=".5" stroke-width="1" stroke-dasharray="5.2,2.2"/>
<path fill="none" stroke="#ff0000" stroke-width="6" stroke-linecap="round" d="M68 876h0M80 875h0M82 880h0M115 872h0M115 880h0M118 899h0M117 903h0M153 888h0M154 897h0M156 903h0M155 904h0M187 889h0M188 891h0M190 897h0M191 899h0M219 897h0M220 899h0M219 907h0M245 892h0M247 900h0M247 906h0M247 896h0M269 897h0M271 889h0M278 896h0M279 910h0M280 908h0M280 919h0M298 911h0M299 917h0M298 922h0M300 913h0M337 905h0M339 909h0M342 901h0M345 900h0M351 906h0M367 904h0M368 914h0M370 913h0M367 922h0M370 927h0M378 927h0M379 915h0M384 917h0M385 920h0M390 919h0M388 933h0M393 933h0M397 918h0M402 912h0M403 917h0M404 910h0M407 910h0M408 909h0M411 927h0M420 921h0M422 924h0M424 926h0M426 927h0M429 922h0M431 917h0M432 915h0M437 900h0M437 896h0M439 897h0M440 902h0M442 903h0M440 913h0M442 907h0M452 907h0M455 908h0M459 909h0M462 908h0M466 917h0M469 916h0M471 926h0M472 920h0M474 887h0M473 887h0M475 893h0M481 915h0M492 896h0M496 906h0M499 907h0M502 897h0M504 900h0M508 900h0M511 896h0M514 899h0M516 900h0M516 907h0M512 903h0M527 919h0M537 919h0M538 907h0M539 905h0M542 904h0M540 928h0M545 925h0M547 923h0M548 909h0M545 920h0M550 928h0M553 924h0M561 927h0M566 922h0M569 923h0M571 920h0M574 926h0M577 923h0M580 927h0M585 913h0M589 912h0M592 911h0M596 927h0M608 927h0M611 925h0M612 926h0M630 913h0M635 914h0M772 911h0M821 909h0M823 898h0M850 901h0M853 913h0M864 909h0M875 911h0M884 903h0M896 917h0M905 906h0M916 921h0M925 911h0M934 896h0M942 908h0M946 893h0M969 897h0M971 889h0M977 896h0M980 888h0M988 902h0M992 890h0M1087 921h0M1096 921h0M1106 921h0M1110 906h0M1119 903h0M1127 905h0M1133 904h0M1139 909h0M1160 902h0M1162 896h0M1168 897h0M1177 898h0M1179 913h0M1185 918h0M1191 911h0M1197 916h0M1202 913h0M1211 911h0M1223 910h0M1225 916h0M1235 917h0M1237 919h0M1240 911h0M1248 919h0M1258 906h0M1260 916h0M1266 919h0M1271 919h0M1277 922h0M1281 913h0M1286 918h0M1289 905h0M1295 919h0M1301 910h0M1312 922h0M1318 919h0M1327 913h0M1333 911h0M1339 909h0M1347 913h0M1353 909h0M1362 910h0M1368 906h0M1373 913h0M1378 917h0M1385 909h0M1393 905h0M1399 907h0M1405 902h0M1410 904h0M1416 906h0M1422 912h0M1430 918h0M1439 911h0M1445 913h0M1451 906h0M1462 913h0M1468 909h0M1480 920h0M1486 913h0M1491 918h0M1499 909h0M1500 915h0M1508 920h0M1509 916h0M1517 902h0M1518 915h0M1523 906h0M1527 903h0M1534 908h0M1539 918h0M1545 906h0M1548 912h0"/>
</g>

<!-- legend -->
<rect x="1465.5" y="843.5" width="75.5" height="44.5" rx="3" ry="3" fill="#fff" fill-opacity=".8" stroke="#cccccc" stroke-width="1"/>
<path fill="none" stroke="#000" stroke-width="6" stroke-linecap="round" d="M1484.5 855h0"/>
<path fill="none" stroke="#ff0000" stroke-width="6" stroke-linecap="round" d="M1484.5 875.5h0"/>
<text x="1503.5" y="860" font-size="13.9">T</text>
<text x="1503" y="880.5" font-size="13.9">CHI2</text>

<!-- ================= AXES FRAMES ================= -->
<g fill="none" stroke="#000" stroke-width="1.1">
<rect x="68" y="31" width="1480" height="361"/>
<rect x="68" y="433" width="1480" height="361"/>
<rect x="68" y="836" width="1480" height="118"/>
</g>

<!-- mode colorbar -->
<rect class="K" x="1641" y="31" width="17" height="45.1"/>
<rect class="M" x="1641" y="76.1" width="17" height="45.2"/>
<rect class="T" x="1641" y="121.3" width="17" height="45.1"/>
<rect class="Y" x="1641" y="166.4" width="17" height="45.1"/>
<rect class="G" x="1641" y="211.5" width="17" height="45.1"/>
<rect class="S" x="1641" y="256.6" width="17" height="45.2"/>
<rect class="C" x="1641" y="301.8" width="17" height="45.1"/>
<rect class="P" x="1641" y="346.9" width="17" height="45.1"/>
<rect x="1641" y="31" width="17" height="361" fill="none" stroke="#000" stroke-width="1.1"/>
<rect x="1641" y="433" width="17" height="361" fill="url(#cbE)" stroke="#000" stroke-width="1.1"/>

<!-- ticks -->
<g stroke="#000" stroke-width="1.1">
<path d="M63 66H68M63 130.1H68M63 194.1H68M63 258.2H68M63 322.3H68M63 386.3H68"/>
<path d="M63 468H68M63 532.1H68M63 596.1H68M63 660.2H68M63 724.3H68M63 788.3H68"/>
<path d="M63 852H68M63 903H68M63 954H68"/>
<path d="M132.5 954V959M350.2 954V959M567.9 954V959M785.6 954V959M1003.3 954V959M1221 954V959M1438.7 954V959"/>
<path d="M1548 836H1553M1548 895H1553M1548 954H1553"/>
<path stroke-width=".8" d="M1548 936.2H1551M1548 925.9H1551M1548 918.5H1551M1548 912.8H1551M1548 908.1H1551M1548 904.1H1551M1548 900.7H1551M1548 897.7H1551M1548 877.2H1551M1548 866.9H1551M1548 859.5H1551M1548 853.8H1551M1548 849.1H1551M1548 845.1H1551M1548 841.7H1551M1548 838.7H1551"/>
<path d="M1658 71.1H1663M1658 111.2H1663M1658 151.3H1663M1658 191.4H1663M1658 231.6H1663M1658 271.7H1663M1658 311.8H1663M1658 351.9H1663"/>
<path d="M1658 433H1663M1658 505.2H1663M1658 577.4H1663M1658 649.6H1663M1658 721.8H1663M1658 794H1663"/>
</g>

<!-- texts -->
<g font-size="13.9" fill="#000">
<text x="808" y="22.5" font-size="16.7" text-anchor="middle">Mode</text>
<text x="808" y="424.5" font-size="16.7" text-anchor="middle">Entropy</text>
<g text-anchor="end">
<text x="58.5" y="71">60</text><text x="58.5" y="135.1">40</text><text x="58.5" y="199.1">20</text><text x="58.5" y="263.2">0</text><text x="58.5" y="327.3">−20</text><text x="58.5" y="391.3">−40</text>
<text x="58.5" y="473">60</text><text x="58.5" y="537.1">40</text><text x="58.5" y="601.1">20</text><text x="58.5" y="665.2">0</text><text x="58.5" y="729.3">−20</text><text x="58.5" y="793.3">−40</text>
<text x="58.5" y="857">10<tspan font-size="9.7" dy="-6">2</tspan></text>
<text x="58.5" y="908">10<tspan font-size="9.7" dy="-6">1</tspan></text>
<text x="58.5" y="959">10<tspan font-size="9.7" dy="-6">0</tspan></text>
</g>
<g text-anchor="middle">
<text x="132.5" y="977">543200</text><text x="350.2" y="977">543400</text><text x="567.9" y="977">543600</text><text x="785.6" y="977">543800</text><text x="1003.3" y="977">544000</text><text x="1221" y="977">544200</text><text x="1438.7" y="977">544400</text>
</g>
<text transform="translate(20,211.5) rotate(-90)" text-anchor="middle">Elevation (m)</text>
<text transform="translate(20,613.5) rotate(-90)" text-anchor="middle">Elevation (m)</text>
<text transform="translate(21.5,895) rotate(-90)" text-anchor="middle">Temperature</text>
<g fill="#ff0000">
<text x="1558.5" y="841">10<tspan font-size="9.7" dy="-6">1</tspan></text>
<text x="1558.5" y="900">10<tspan font-size="9.7" dy="-6">0</tspan></text>
<text x="1558.5" y="959">10<tspan font-size="9.7" dy="-6">−1</tspan></text>
<text transform="translate(1607,896) rotate(-90)" text-anchor="middle">CHI2 (Reduced <tspan font-style="italic">χ</tspan><tspan font-size="9.7" dy="-6">2</tspan><tspan dy="6">)</tspan></text>
</g>
<text x="1668" y="76.1">Organic rich</text>
<text x="1668" y="116.2">Meltwater sand</text>
<text x="1668" y="156.3">Till</text>
<text x="1668" y="196.4">Meltwater clay</text>
<text x="1668" y="236.6">Gravel</text>
<text x="1668" y="276.7">Miocene sand</text>
<text x="1668" y="316.8">Miocene clay</text>
<text x="1668" y="356.9">Paleogene clay</text>
<text transform="translate(1792.5,211.5) rotate(-90)" text-anchor="middle">label</text>
<text x="1668" y="438">1.0</text><text x="1668" y="510.2">0.8</text><text x="1668" y="582.4">0.6</text><text x="1668" y="654.6">0.4</text><text x="1668" y="726.8">0.2</text><text x="1668" y="799">0.0</text>
<text transform="translate(1706,613.5) rotate(-90)" text-anchor="middle">Entropy</text>
</g>
</svg>
</body></html>
